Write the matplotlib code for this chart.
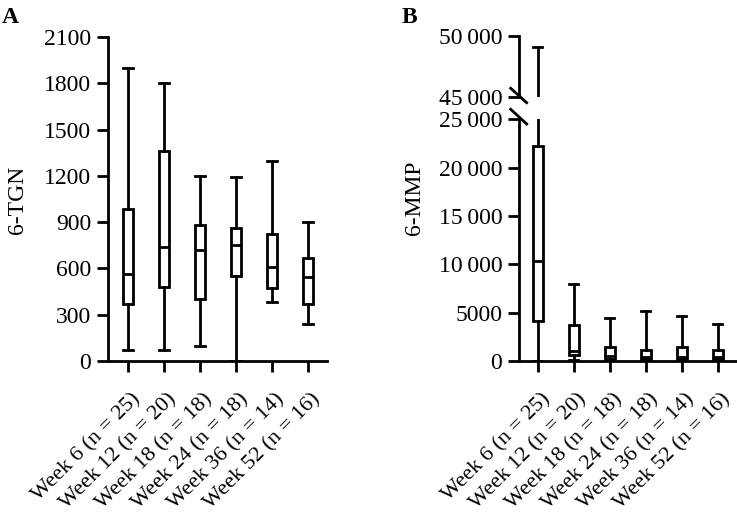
import matplotlib
matplotlib.use("Agg")
import matplotlib.pyplot as plt
import matplotlib.transforms as mtransforms
from matplotlib.lines import Line2D

plt.rcParams['font.family'] = ['Liberation Serif', 'DejaVu Serif']

# Categories
weeks = ['Week 6 (n = 25)', 'Week 12 (n = 20)', 'Week 18 (n = 18)',
         'Week 24 (n = 18)', 'Week 36 (n = 14)', 'Week 52 (n = 16)']
positions = [1, 2, 3, 4, 5, 6]

# 6-TGN box statistics (min, q1, median, q3, max)
tgn_low = [70, 70, 100, 0, 385, 242]
tgn_q1 = [370, 477, 400, 553, 475, 370]
tgn_med = [565, 740, 720, 755, 610, 545]
tgn_q3 = [985, 1360, 880, 860, 820, 670]
tgn_high = [1900, 1800, 1200, 1190, 1295, 900]

# 6-MMP box statistics
mmp_low = [0, 150, 40, 30, 40, 40]
mmp_q1 = [4150, 600, 250, 200, 250, 200]
mmp_med = [10300, 1050, 550, 450, 450, 400]
mmp_q3 = [22200, 3700, 1450, 1100, 1480, 1100]
mmp_high = [49100, 7950, 4450, 5200, 4650, 3800]

tgn_ticks = [0, 300, 600, 900, 1200, 1500, 1800, 2100]
mmp_low_ticks = [0, 5000, 10000, 15000, 20000, 25000]
mmp_low_labels = ['0', '5000', '10\u2009000', '15\u2009000', '20\u2009000', '25\u2009000']
mmp_up_ticks = [45000, 50000]
mmp_up_labels = ['45\u2009000', '50\u2009000']

FS = 17
XFS = 16
LW = 2.0
W, H = 737, 519


def stats(lo, q1, med, q3, hi):
    return [dict(whislo=a, q1=b, med=c, q3=d, whishi=e, fliers=[])
            for a, b, c, d, e in zip(lo, q1, med, q3, hi)]


def draw_boxes(ax, st):
    ax.bxp(st, positions=positions, widths=0.28, capwidths=0.26,
           showfliers=False, patch_artist=True,
           boxprops=dict(facecolor='white', edgecolor='black', linewidth=LW),
           whiskerprops=dict(color='black', linewidth=LW),
           capprops=dict(color='black', linewidth=LW),
           medianprops=dict(color='black', linewidth=LW))


def style(ax):
    for s in ['top', 'right']:
        ax.spines[s].set_visible(False)
    for s in ['left', 'bottom']:
        ax.spines[s].set_linewidth(LW)
    ax.tick_params(direction='out', length=8, width=LW, labelsize=FS, pad=4)


def xlabels(ax):
    ax.set_xticks(positions)
    ax.set_xticklabels(weeks, rotation=45, ha='right', va='top',
                       rotation_mode='anchor', fontsize=XFS)
    off = mtransforms.ScaledTranslation(3 / 100, -12 / 100, ax.figure.dpi_scale_trans)
    for lab in ax.get_xticklabels():
        lab.set_transform(lab.get_transform() + off)


def frac(x0, y_top, x1, y_bot):
    return [x0 / W, 1 - y_bot / H, (x1 - x0) / W, (y_bot - y_top) / H]


fig = plt.figure(figsize=(7.37, 5.19), dpi=100)

# Panel A
axA = fig.add_axes(frac(108, 37, 327, 361))
draw_boxes(axA, stats(tgn_low, tgn_q1, tgn_med, tgn_q3, tgn_high))
style(axA)
axA.set_ylim(0, 2100)
axA.set_xlim(0.444, 6.53)
axA.set_yticks(tgn_ticks)
xlabels(axA)

# Panel B (broken axis)
st_mmp = stats(mmp_low, mmp_q1, mmp_med, mmp_q3, mmp_high)
axB = fig.add_axes(frac(519, 119.3, 737, 361))
draw_boxes(axB, st_mmp)
style(axB)
axB.set_ylim(0, 25000)
axB.set_xlim(0.48, 6.54)
axB.set_yticks(mmp_low_ticks)
axB.set_yticklabels(mmp_low_labels)
xlabels(axB)

axBu = fig.add_axes(frac(519, 36, 737, 96.7))
draw_boxes(axBu, st_mmp)
style(axBu)
axBu.spines['bottom'].set_visible(False)
axBu.set_ylim(45000, 50000)
axBu.set_xlim(0.48, 6.54)
axBu.set_yticks(mmp_up_ticks)
axBu.set_yticklabels(mmp_up_labels)
axBu.set_xticks([])

# break marks
for (xa, ya, xb, yb) in [(510.7, 88.3, 526.7, 102.7), (510.7, 109.3, 526.7, 124)]:
    fig.add_artist(Line2D([xa / W, xb / W], [1 - ya / H, 1 - yb / H],
                          color='black', linewidth=LW))

# axis titles and panel letters
fig.text(17 / W, 1 - 200 / H, '6-TGN', rotation=90, ha='center', va='center', fontsize=FS)
fig.text(414.5 / W, 1 - 198 / H, '6-MMP', rotation=90, ha='center', va='center', fontsize=FS)
fig.text(2 / W, 1 - 23 / H, 'A', fontsize=17, fontweight='bold', va='baseline')
fig.text(402 / W, 1 - 23 / H, 'B', fontsize=17, fontweight='bold', va='baseline')

fig.savefig('out.png', dpi=100)
